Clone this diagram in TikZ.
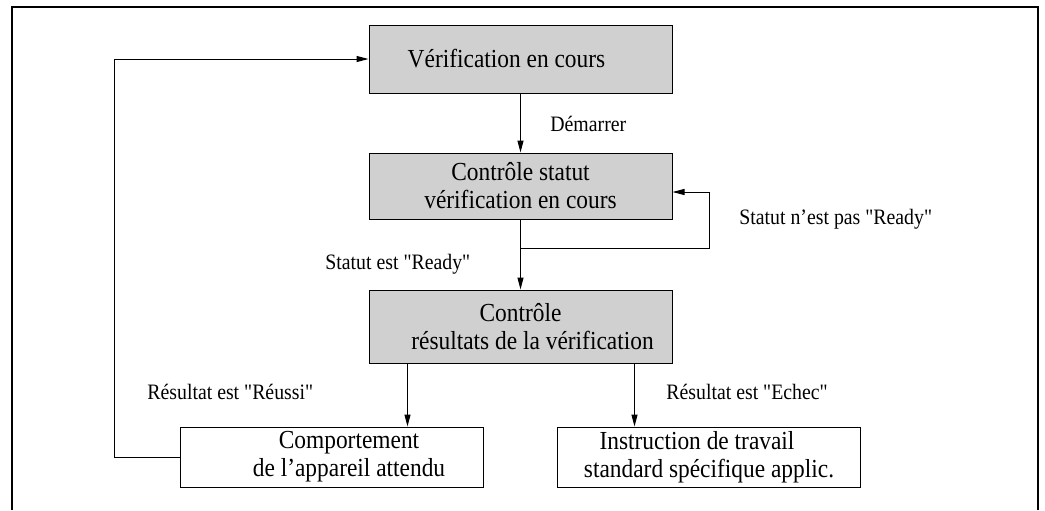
\documentclass[tikz,border=0pt]{standalone}
\usepackage{fontspec}
\setmainfont{Liberation Serif}[FakeStretch=0.9, Ligatures=TeXOff]
\usetikzlibrary{arrows.meta,positioning}
\definecolor{boxgray}{RGB}{208,208,208}

\begin{document}
\begin{tikzpicture}[
    x=0.5pt, y=-0.5pt,
    box/.style={draw, line width=0.5pt, align=center, minimum width=151.5pt, minimum height=30pt, inner sep=0pt, font=\fontsize{13}{14}\selectfont},
    active/.style={box, fill=boxgray, minimum height=34pt},
    cond/.style={anchor=west, inner sep=0pt, font=\fontsize{11}{13}\selectfont},
    link/.style={-{Triangle[length=6pt, width=3pt]}, line width=0.5pt}
]
\useasboundingbox (0,0) rectangle (1045,510);
\draw[line width=0.75pt] (12,510) -- (12,7) -- (1038,7) -- (1038,510);

% steps of the check
\node[active] (check) at (520.5,59) {\hspace*{-14pt}Vérification en cours};
\node[active, minimum height=33pt] (status) at (520.5,186) {Contrôle statut\\vérification en cours};
\node[active, minimum height=36.5pt] (results) at (520.5,326.5) {Contrôle\\\hspace*{12pt}résultats de la vérification};
\node[box] (passed) at (332,457) {\hspace*{17pt}Comportement\\\hspace*{17pt}de l’appareil attendu};
\node[box] (failed) at (709,457) {\hspace*{-12pt}Instruction de travail\\standard spécifique applic.};

% conditions
\node[cond] (start) at (550,124) {Démarrer};
\node[cond] (notready) at (739,219) {Statut n’est pas "Ready"};
\node[cond] (ready) at (325,264) {Statut est "Ready"};
\node[cond] (ok) at (147,392) {Résultat est "Réussi"};
\node[cond] (fail) at (666,392) {Résultat est "Echec"};

\coordinate (loopturn) at (709,248);
\coordinate (backturn) at (114,457);
\coordinate (leftout) at ([xshift=-56.5pt]results.south);
\coordinate (rightout) at ([xshift=57pt]results.south);

\draw[link] (check) -- (status);
\draw[link] (status) -- (results);
\draw[link] (status.south |- loopturn) -- (loopturn) |- ([yshift=-3pt]status.east);
\draw[link] (leftout) -- (leftout |- passed.north);
\draw[link] (rightout) -- (rightout |- failed.north);
\draw[link] (passed.west) -- (backturn) |- (check.west);
\end{tikzpicture}
\end{document}
